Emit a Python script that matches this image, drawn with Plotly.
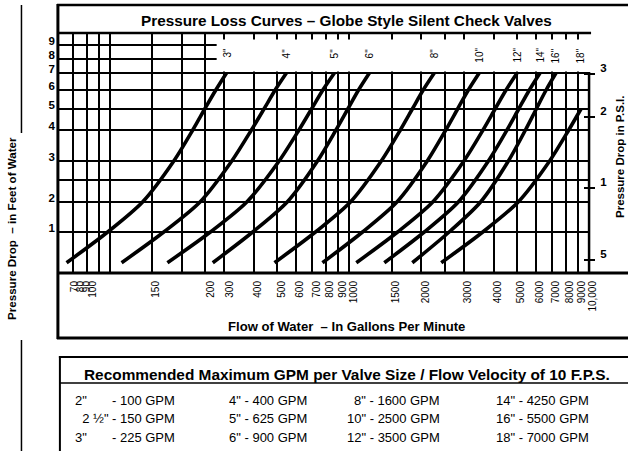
import numpy as np
import plotly.graph_objects as go

# ---------------- data ----------------
VALVE_SIZES = ['3"', '4"', '5"', '6"', '8"', '10"', '12"', '14"', '16"', '18"']
FEET_LEVELS = [0.25, 1, 2, 3, 4, 5, 6, 7]          # pressure drop, ft of water
GPM_3 = [66, 98, 137, 185, 222, 249, 277, 307]
GPM_4 = [112, 168, 238, 323, 390, 440, 490, 546]
GPM_5 = [174, 263, 373, 509, 616, 695, 775, 866]
GPM_6 = [269, 395, 550, 736, 879, 985, 1092, 1212]
GPM_8 = [487, 722, 1010, 1359, 1632, 1831, 2033, 2261]
GPM_10 = [772, 1135, 1579, 2114, 2526, 2829, 3138, 3482]
GPM_12 = [1069, 1590, 2228, 3006, 3612, 4056, 4508, 5012]
GPM_14 = [1399, 2054, 2849, 3805, 4550, 5090, 5641, 6250]
GPM_16 = [1831, 2609, 3529, 4611, 5433, 6026, 6627, 7286]
GPM_18 = [2418, 3605, 5067, 6852, 8236, 9261]
CURVES = [GPM_3, GPM_4, GPM_5, GPM_6, GPM_8, GPM_10, GPM_12, GPM_14, GPM_16, GPM_18]

X_TICK_TEXT = ["70", "80", "90", "100", "150", "200", "300", "400", "500", "600", "700",
               "800", "900", "1000", "1500", "2000", "3000", "4000", "5000", "6000",
               "7000", "8000", "9000", "10,000"]
# where each printed label sits on the flow scale (the 70-100 labels are squeezed)
X_TICK_AT = [68.8, 72.9, 77.2, 81.8, 149.6, 253.5, 304, 400, 500, 600, 700,
             800, 900, 1000, 1500, 2000, 3000, 4000, 5000, 6000,
             7000, 8000, 9000, 10000]
X_GRID_GPM = [70, 80, 90, 100, 150, 200, 250, 300, 400, 500, 600, 700, 800, 900, 1000,
              1500, 2000, 2500, 3000, 4000, 5000, 6000, 7000, 8000, 9000]

Y_TICK_FEET = [1, 2, 3, 4, 5, 6, 7, 8, 9]
Y_TICK_TEXT = ["1", "2", "3", "4", "5", "6", "7", "8", "9"]
Y_GRID_FEET = [1, 2, 2.5, 3, 4, 5, 6, 7, 8, 9]

PSI_TICK_TEXT = ["5", "1", "2", "3"]
PSI_TICK_FEET = [0.32, 2.31, 4.62, 6.93]

TABLE_SIZES = ['2"', '2 ½"', '3"', '4"', '5"', '6"', '8"', '10"', '12"', '14"', '16"', '18"']
TABLE_GPM = [100, 150, 225, 400, 625, 900, 1600, 2500, 3500, 4250, 5500, 7000]

TITLE = "Pressure Loss Curves – Globe Style Silent Check Valves"
X_TITLE = "Flow of Water  – In Gallons Per Minute"
Y_TITLE = "Pressure Drop  – in Feet of Water"
Y2_TITLE = "Pressure Drop in P.S.I."
TABLE_TITLE = "Recommended Maximum GPM per Valve Size / Flow Velocity of 10 F.P.S."

# ---------------- nomograph scale for the feet axis ----------------
SCALE_FEET = [0, 1, 2, 2.5, 3, 4, 5, 6, 7, 8, 9, 10]
SCALE_POS = [0, 41, 71, 93, 112, 143, 164, 183, 200, 214, 228, 240]


def feet_pos(v):
    return np.interp(np.asarray(v, dtype=float), SCALE_FEET, SCALE_POS)


REF_W, REF_H = 629, 451      # layout positions below are measured on a 629x451 picture
W, H = 637, 451              # page width as captured (picture is scaled to 629 wide)
FONT = "Liberation Sans, Arial, Helvetica, sans-serif"


def px(x):
    return x / REF_W


def py(y):
    return 1 - y / REF_H


X_LO, X_HI = 1.7875, 4.0005

fig = go.Figure()
for gpm in CURVES:
    fig.add_trace(go.Scatter(
        x=gpm, y=feet_pos(FEET_LEVELS[:len(gpm)]), mode="lines",
        line=dict(color="black", width=3.6, shape="spline", smoothing=0.8),
        hoverinfo="skip", showlegend=False))
# empty traces so the right-hand axes are built
fig.add_trace(go.Scatter(x=[None], y=[None], yaxis="y2", showlegend=False))
fig.add_trace(go.Scatter(x=[None], y=[None], yaxis="y3", showlegend=False))

fig.update_layout(
    width=W, height=H, autosize=False,
    margin=dict(l=0, r=0, t=0, b=0),
    paper_bgcolor="white", plot_bgcolor="white",
    font=dict(family=FONT, color="black"),
    xaxis=dict(
        type="log", range=[X_LO, X_HI], domain=[px(59), px(590)],
        tickmode="array", tickvals=X_TICK_AT, ticktext=X_TICK_TEXT,
        tickangle=-90, tickfont=dict(size=10, family=FONT),
        ticks="", showgrid=False, zeroline=False, showline=False,
        ticklabelshift=4, ticklabelstandoff=5,
        minor=dict(tickmode="array", tickvals=X_GRID_GPM, showgrid=True,
                   gridcolor="black", gridwidth=2, ticks=""),
    ),
    yaxis=dict(
        range=[0, 240], domain=[py(273), py(33)],
        tickmode="array", tickvals=list(feet_pos(Y_TICK_FEET)), ticktext=Y_TICK_TEXT,
        tickfont=dict(size=11.5, family=FONT, weight="bold"),
        ticks="", showgrid=False, zeroline=False, showline=False,
        ticklabelshift=-4, ticklabelstandoff=3,
        minor=dict(tickmode="array", tickvals=list(feet_pos(Y_GRID_FEET)), showgrid=True,
                   gridcolor="black", gridwidth=2, ticks=""),
    ),
    yaxis2=dict(
        range=[0, 240], overlaying="y", side="right", anchor="x",
        tickmode="array", tickvals=list(feet_pos(PSI_TICK_FEET)), ticktext=PSI_TICK_TEXT,
        tickfont=dict(size=11.5, family=FONT, weight="bold"),
        ticks="outside", ticklen=5, tickwidth=2, tickcolor="black",
        showgrid=False, zeroline=False, showline=False,
        ticklabelshift=-6, ticklabelstandoff=3,
    ),
    yaxis3=dict(
        range=[0, 240], overlaying="y", side="right", anchor="x",
        tickmode="array", tickvals=list(feet_pos(PSI_TICK_FEET)),
        showticklabels=False,
        ticks="inside", ticklen=5, tickwidth=2, tickcolor="black",
        showgrid=False, zeroline=False, showline=False,
    ),
)

LW = "black"
shapes = [
    # blank band above the 7 ft line that holds the valve-size labels
    dict(type="rect", xref="paper", yref="paper", x0=px(217), x1=px(592), y0=py(71.5), y1=py(39.5),
         fillcolor="white", line=dict(width=0), layer="above"),
    # outer frame
    dict(type="line", xref="paper", yref="paper", x0=px(58), x1=px(58), y0=py(4), y1=py(339),
         line=dict(color=LW, width=3)),
    dict(type="line", xref="paper", yref="paper", x0=px(57), x1=1, y0=py(5), y1=py(5),
         line=dict(color=LW, width=2.5)),
    dict(type="line", xref="paper", yref="paper", x0=px(57), x1=1, y0=py(338), y1=py(338),
         line=dict(color=LW, width=3)),
    # title box bottom / top of grid
    dict(type="line", xref="paper", yref="paper", x0=px(58), x1=px(592), y0=py(33), y1=py(33),
         line=dict(color=LW, width=2.5)),
    # bottom of grid
    dict(type="line", xref="paper", yref="paper", x0=px(58), x1=1, y0=py(273), y1=py(273),
         line=dict(color=LW, width=3)),
    # right axis line
    dict(type="line", xref="paper", yref="paper", x0=px(590), x1=px(590), y0=py(72), y1=py(273),
         line=dict(color=LW, width=2.5)),
    # left decorative rules
    dict(type="line", xref="paper", yref="paper", x0=px(21.5), x1=px(21.5), y0=py(5), y1=py(133),
         line=dict(color=LW, width=1.5)),
    dict(type="line", xref="paper", yref="paper", x0=px(21.5), x1=px(21.5), y0=py(340), y1=0,
         line=dict(color=LW, width=1.5)),
    # table box
    dict(type="line", xref="paper", yref="paper", x0=px(60), x1=px(60), y0=py(356), y1=0,
         line=dict(color=LW, width=2)),
    dict(type="line", xref="paper", yref="paper", x0=px(59), x1=1, y0=py(357), y1=py(357),
         line=dict(color=LW, width=2)),
    dict(type="line", xref="paper", yref="paper", x0=px(60), x1=1, y0=py(383), y1=py(383),
         line=dict(color=LW, width=1.5)),
]
fig.update_layout(shapes=shapes)

ann = []
ann.append(dict(text="<b>" + TITLE + "</b>", x=px(347), y=py(21), xref="paper", yref="paper",
                xanchor="center", yanchor="middle", showarrow=False, font=dict(size=15.3)))
ann.append(dict(text="<b>" + X_TITLE.replace("  ", "\u00a0 ") + "</b>", x=px(347), y=py(326),
                xref="paper", yref="paper", xanchor="center", yanchor="middle",
                showarrow=False, font=dict(size=13.1)))
ann.append(dict(text="<b>" + Y_TITLE.replace("  ", "\u00a0 ") + "</b>", x=px(12), y=py(228),
                xref="paper", yref="paper", xanchor="center", yanchor="middle",
                textangle=-90, showarrow=False, font=dict(size=11.6)))
ann.append(dict(text="<b>" + Y2_TITLE + "</b>", x=px(621), y=py(157), xref="paper", yref="paper",
                xanchor="center", yanchor="middle", textangle=-90, showarrow=False,
                font=dict(size=11.5)))
# valve size labels above the curve ends
for name, gpm in zip(VALVE_SIZES, CURVES):
    ann.append(dict(text=name, x=float(np.log10(gpm[-1])), y=py(46), xref="x", yref="paper",
                    xanchor="center", yanchor="top", textangle=-90, showarrow=False,
                    font=dict(size=10)))
# table
ann.append(dict(text="<b>" + TABLE_TITLE + "</b>", x=px(348), y=py(374), xref="paper", yref="paper",
                xanchor="center", yanchor="middle", showarrow=False, font=dict(size=15.4)))
ROW_Y = [400, 418.5, 437]
for i, (s, g) in enumerate(zip(TABLE_SIZES, TABLE_GPM)):
    col, row = divmod(i, 3)
    yv = py(ROW_Y[row])
    if col == 0:
        label = ("\u00a0\u00a0" + s) if "½" in s else s
        ann.append(dict(text=label, x=px(73), y=yv, xref="paper", yref="paper",
                        xanchor="left", yanchor="middle", showarrow=False, font=dict(size=13)))
        ann.append(dict(text=f"- {g} GPM", x=px(110), y=yv, xref="paper", yref="paper",
                        xanchor="left", yanchor="middle", showarrow=False, font=dict(size=13)))
    else:
        xa, anchor = {1: (227, "left"), 2: (443, "right"), 3: (495, "left")}[col]
        ann.append(dict(text=f"{s} - {g} GPM", x=px(xa), y=yv, xref="paper", yref="paper",
                        xanchor=anchor, yanchor="middle", showarrow=False, font=dict(size=13)))
fig.update_layout(annotations=ann)

# drop the page's default body margin so the figure starts at the window corner
fig.write_html("out.html", config={"displayModeBar": False},
               post_script="document.body.style.margin='0px';")
